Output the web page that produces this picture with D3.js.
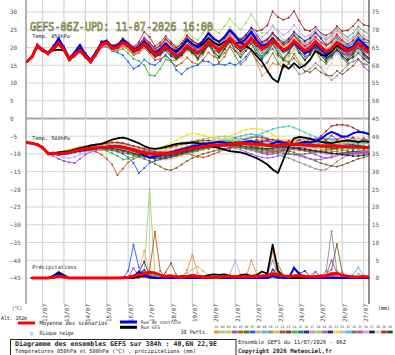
<!DOCTYPE html>
<meta charset="utf-8" />
<head>
  <style>
    body { margin: 0; background: #fff; }
    svg text { font-family: "DejaVu Sans Mono", monospace; }
  </style>
  <script src="https://d3js.org/d3.v7.min.js"></script>
</head>
<body>
  <svg width="395" height="355"></svg>
  <script>
    // 6h steps from 11/07 06Z to 27/07 06Z (384h)
    const days = ["12/07", "13/07", "14/07", "15/07", "16/07", "17/07", "18/07", "19/07",
      "20/07", "21/07", "22/07", "23/07", "24/07", "25/07", "26/07", "27/07"];
    const dayStep = [3, 7, 11, 15, 19, 23, 27, 31, 35, 39, 43, 47, 51, 55, 59, 63];
    const leftTicks = [30, 25, 20, 15, 10, 5, 0, -5, -10, -15, -20, -25, -30, -35, -40, -45];
    const rightTicks = [75, 70, 65, 60, 55, 50, 45, 40, 35, 30, 25, 20, 15, 10, 5, 0];
    const memberColors = ["#f08c3c", "#a0d870", "#c8c850", "#9050d0", "#c05818", "#507020",
      "#2060f0", "#d0b080", "#60b0e0", "#909090", "#e0c040", "#806030", "#a02828", "#30c030",
      "#208080", "#203080", "#f080c0", "#80e040", "#a060f0", "#3020a0", "#f0e020", "#f0b090",
      "#40d0d0", "#708040", "#d040a0", "#c0a0f0", "#202060", "#e0d0b0", "#c02040", "#106010"];

    const nums = s => s.trim().split(/[\s|]+/).map(Number);

    // temperature 850hPa (°C)
    const t850Mean = nums("15.9 17.3 20.4 19.3|18.3 19.6 21.2 19.4|16.6 18 19.2 17.5|16 18.2 20.8 21.3|19.8 20 21.4 20.4|18.9 19.6 21 19.7|18 18.8 20.3 18.9|17.6 18.6 20.5 19.4|18.4 19.6 21.6 20.3|19.2 20.6 22.6 21|19.8 20.8 22.4 21|19.6 20.4 22 20.6|19.2 20 21.8 20.5|19 19.8 21.6 20.2|18.8 19.6 21.4 20.2|18.9 19.8 21.2 20|18.8");
    const t850Ctrl = nums("15.9 17.4 20.6 19.4|18.5 20 22.6 19.8|16.8 18.6 20.8 18|16.4 18.6 21.2 21.8|20 20.4 22.2 20.8|19.2 20 21.8 20.2|18.4 19.6 21.2 19.6|18.6 20.2 22.4 21|20.2 21.8 24 22.4|21.6 23 25 23.4|21.2 22.4 24.4 22|20.4 21 22.6 20.8|19 19.6 21.4 19.8|18.4 19.2 21 19.4|18 19.4 21.6 20.6|19.6 20.4 22.4 21|19.8");
    const t850Gfs = nums("15.9 17.2 20.2 19|18.4 19.2 19.4 19.2|16.8 17.8 19.6 17.8|16.2 18.4 21 21.4|20.2 20.4 21.8 20.6|19.4 20 21.4 20|18.6 19.4 21 19.6|19 20.2 22 21|20 21 22.6 21.4|20.6 21.6 22.2 21|21.6 20.4 19.4 17.6|16 13.4 11.2 10.2|15.2 14 15.6 14.2|15 16.6 19 18|17.6 18.8 20.6 19.6|18.8 19.8 21.4 20.2|19.6");
    const t850Members = [
      "16 17.3 20.5 19.3|18.4 19.8 21.4 19.6|16.9 18.4 19.6 17.9|16.4 18.6 21.2 21.6|20.1 20.5 22 21|19.6 20.4 22 20.6|19 20 21.6 20.2|19.2 20.4 22.2 20.6|19.6 21 23 21.6|20.2 21.8 23.6 22|20.8 20.6 19 16|12 13.2 15.6 15|16.2 17.6 19.6 18.6|18 19.2 21.2 20|19.4 20.8 22.6 21.2|20 21.2 22.8 21.2|20.4",
      "16 17.2 20.3 19.2|18.2 19.8 21.2 19.4|16.8 18.2 19.4 17.8|16.2 18.4 21 21.5|20 20.2 21.8 20.8|19.6 20.6 22.4 21|19.4 20.6 22.6 21.4|20.6 22 24.6 23|22 24 27 25|24 26 28.2 26.4|25 27 29.4 27|24 24.2 26 24|22 22.6 24.2 22.2|21 21.6 23 21.4|20.4 21.4 23 21.6|20.6 21.6 23.4 22|21",
      "15.9 17.4 20.6 19.4|18.6 20.2 21.8 19.8|17 18.4 19.8 18.2|16.6 18.8 21.4 21.6|20.4 20.6 22 21.2|19.8 20.8 22.6 21.2|19.6 20.8 22.4 21|19.4 20.8 22.8 21.4|20 21.6 23.6 22|20.8 22.4 24.2 22.4|21 22 23.6 21.8|20.4 21.2 23 21.6|20.6 21.8 23.8 22.2|21 22 24 22.4|21.2 22.4 24.6 23|22 23 25 23.4|22.6",
      "16 17.6 21 19.8|18.8 20.6 22.6 20.4|17.4 18.8 20.4 18.4|16.8 19 21.8 22|20.6 20.8 22.4 21.4|20 21 22.8 21.4|19.8 20.6 21.8 20.2|19 20 21.4 20|19.2 20.4 22 20.6|19.6 21 22.8 21.2|20 21 22.6 21|19.6 20.2 21.6 20|18.6 19.2 20.6 18.8|17.4 18 19.6 18|16.6 17.4 18.8 17|15.4 16 16.8 14.6|13.2",
      "15.8 17 20 18.9|18 19.2 20.6 19|16.2 17.4 18.6 17|15.6 17.6 20 20.2|19 19.2 20.4 19.4|17.8 18.4 19.8 18.4|16.4 16.8 17.6 16|14.8 15.6 17.2 15.8|15.2 16.6 18.6 17.4|17 18.4 20.4 19|18.2 19.4 21.2 19.8|19 19.8 21.6 20.2|18.8 19.6 21.4 20|18.4 19.4 21.2 19.6|18 19 20.8 19.4|18.4 19.4 21 19.8|18.6",
      "16 17.3 20.4 19.3|18.2 19.6 21 19.2|16.5 17.9 19.2 17.4|15.8 18 20.6 21.2|19.6 19.8 21.4 20.2|18.6 19.4 20.8 19.4|17.8 18.6 20.2 18.8|17.4 18.4 20.2 19|16.8 18.8 21.6 18.6|17.2 19.4 22.4 19.2|17.6 19.8 22.6 19.4|17.4 19.4 22.2 19|17 19 21.8 18.6|16.6 18.6 21.4 18.4|16.4 18.6 21.6 18.6|16.8 18.8 21.6 18.6|17",
      "16 17.1 20.2 19|18 19.4 21 19.2|16.4 17.6 18.8 17.2|15.8 17.8 20.2 20.4|19 18.6 17.8 16|14 14.8 16.6 15.4|15 16.2 18 16.4|13.6 12.4 14 14.6|15 16.2 16 15|15.4 15 15.6 15|16 17.4 19.4 18.2|17.6 18.6 20.6 19.4|18.4 19.4 21.2 19.8|18 18.8 20.4 19|17 17.6 19.2 18.2|17.8 18.8 20.4 19|18.4",
      "16 17.2 20.4 19.2|18.3 19.7 21.3 19.5|16.7 18.1 19.3 17.6|16.1 18.3 20.9 21.4|19.9 20.1 21.6 20.5|19 19.8 21.2 19.9|18.2 19 20.6 19.2|17.8 18.8 20.8 19.6|18.6 19.8 21.8 20.4|19.4 20.8 22.8 21.2|20.2 21.4 23.2 21.8|20.6 21.6 23.6 22.2|21 22.2 24.4 23|22 23 25.4 24|22.6 23.6 25.8 24.2|23 24 26 24.6|24.2",
      "15.9 17 20 19|18 19.2 20.6 18.8|16.2 17.4 18.6 17|15.6 17.6 20.2 20.6|19.2 19.4 20.8 19.6|18.2 18.8 20.2 18.8|17.2 18 19.6 18.2|17 18 19.8 18.6|17.6 18.8 20.8 19.4|18.4 19.6 21.4 20|19 20.2 22 20.6|19.8 21 23 21.6|20.6 21.8 23.6 22.2|21.4 22.6 24.6 23|22 23.2 25.2 23.8|22.8 24 25.8 24.6|23.6",
      "16 17.3 20.4 19.3|18.3 19.6 21.2 19.4|16.6 18 19.2 17.6|16 18.2 20.8 21.2|19.8 20 21.4 20.4|18.8 19.6 21 19.6|18 18.8 20.4 19|17.6 18.6 20.6 19.4|18.4 19.6 21.6 20.2|19.2 20.4 22.2 20.8|19.6 20.6 22.2 20.6|19 19.6 21 19.2|17 15.6 14.4 12.4|13 14 15.6 14.4|12.4 10.8 12 13.4|15 16.4 18.4 17|16.6",
      "16.1 17.4 20.6 19.4|18.5 20 21.6 19.7|16.9 18.3 19.5 17.8|16.3 18.5 21.1 21.6|20.1 20.4 22 20.8|19.4 20.2 21.8 20.4|18.8 19.8 21.6 20.4|19.4 20.6 23 21.6|20.6 22 24.6 23|21.6 23.2 25.8 24|22 23 24.8 22.6|20.6 21.2 22.6 21|19.8 20.6 22.4 20.8|19.6 20.4 22.2 20.6|19.4 20.2 22 20.4|19.2 20 21.6 20|19.4",
      "15.9 17.1 20.2 19.1|18.1 19.4 20.8 19|16.4 17.8 19 17.2|15.8 18 20.4 20.8|19.4 19.6 21 20|18.6 19.2 20.6 19.2|17.6 18.4 20 18.6|17.2 18.2 20.2 19|18 19.2 21 19.6|18.6 19.8 21.6 20.2|19 19.8 21.4 19.8|18.4 18.6 19.6 17.6|16.4 16 17 15.2|13.4 13 14.2 13|12.2 12 13.4 12.4|13.6 14.8 16.6 15.4|15",
      "16.1 17.5 20.8 19.6|18.6 20.2 21.8 20|17.2 18.6 20 18.4|16.8 19 21.6 22|20.6 21 22.6 21.4|20.2 21.6 24.4 23|20.4 21.4 23.2 21.6|20 21.2 23.4 22|21 22 23.8 22.4|21.4 22.8 24.6 23|22.4 23.6 25.6 24.6|25 26.2 30.2 28.6|27.8 28.4 30.2 27.4|25 24.6 25.8 24|23.4 24.2 26 24.6|24.8 26 27.8 26.4|26",
      "16 17.2 20.4 19.2|18.3 19.6 21.4 19.6|16.6 18 19.2 17.6|16 18.2 20.6 20.8|19.2 19 19.6 18.4|16.8 16.2 15 12.2|12 14 16.6 16.2|16.4 17.6 19.6 18.4|17.8 19 21 19.8|18.8 20.2 22.2 20.8|19.6 20.6 22.4 21|19.8 20.6 22.2 20.8|19.4 20.2 22 20.6|19.2 20 21.8 20.4|19 20 21.6 20.2|19 19.8 21.2 19.8|19",
      "16 17.3 20.4 19.2|18.4 19.8 21.4 19.6|16.8 18.2 19.4 17.8|16.2 18.4 21 21.4|20 20.2 21.6 20.6|19 19.8 21.4 20|18.4 19.4 21 19.6|18.2 19.4 21.4 20.2|19.2 20.4 22.4 21|19.8 21 22.8 21.4|20 21 22.6 21.2|20 21 23 21.6|20.4 21.2 23 21.4|19.8 20.4 22 20.4|18.8 19.6 21.2 19.6|18.2 19 20.6 19.2|18.2",
      "16 17.2 20.3 19.2|18.2 19.5 21 19.2|16.5 17.8 19 17.4|15.8 17.8 20.4 20.8|19.4 19.6 21 19.8|18.2 18.8 20.2 18.8|17.4 18.2 19.8 18.4|17 18 20 18.8|17.8 19 21.2 20|19 20.4 22.6 21.2|20.2 21.2 23 21.4|20 20.8 22.6 21|19.4 20.2 22 20.4|19 19.8 21.6 20|18.6 19.4 21 19.4|17.8 18.4 19.8 18.2|17",
      "16 17.3 20.5 19.3|18.4 19.9 21.5 19.6|16.8 18.2 19.4 17.7|16.2 18.4 21 21.5|20 20.3 21.8 20.7|19.2 20 21.6 20.2|18.6 19.6 21.2 19.8|18.4 19.4 21.2 19.8|18.6 19.6 21.4 19.8|18.6 19.6 21.2 19.6|18.6 19.6 21.4 20|19.2 20.4 22.4 21|20 21.2 23.2 21.8|20.6 21.8 23.8 22.4|21 22 23.8 22.2|20.6 21.4 23 21.4|20.4",
      "16 17.2 20.3 19.2|18.3 19.7 21.3 19.5|16.7 18.1 19.3 17.6|16.1 18.3 20.9 21.3|19.9 20.1 21.6 20.5|19 19.8 21.4 20|18.4 19.2 20.8 19.4|18 19 21 19.6|18.8 20 22 20.6|19.6 21 23.4 22|21 22.4 24.6 22.8|21 21.4 22.6 20.8|19.6 20 21.4 19.6|18.4 19 20.6 19.2|18.2 19 20.8 19.4|18.6 19.6 21.4 20|19.6",
      "16 17.3 20.4 19.3|18.4 19.8 21.4 19.6|16.8 18.2 19.6 18|16.4 18.6 21.2 21.4|19.8 19.8 21 19.8|18.4 19 20.4 19|17.6 18.4 20 18.6|17.4 18.4 20.4 19.2|18.4 19.8 22 20.8|19.8 21.2 23.4 21.8|20.6 21.8 23.8 22.2|21 22 24 22.4|21 21.8 23.6 21.8|20 20.6 22.2 20.6|19 19.6 21 19.2|17.6 18 19.2 17.6|16.4",
      "16 17.4 20.6 19.4|18.6 20.4 22.4 20.2|17.2 18.6 20.2 18.4|16.8 19 21.6 21.8|20.4 20.6 22 21|19.6 20.4 22 20.6|19 19.8 21.4 20|18.6 19.6 21.6 20.2|19.4 20.8 23 21.6|20.6 22 24.4 23|22 23.4 25.4 23.6|21.6 22.4 24.2 22.6|21.4 22.4 24.4 23|21.8 22.6 24.2 22.6|20.6 21.4 23 21.4|20.2 21.2 23 21.6|21.2",
      "16 17.3 20.4 19.3|18.3 19.7 21.4 19.6|16.7 18.1 19.4 17.7|16.2 18.4 21 21.4|20 20.3 21.8 20.7|19.2 20.2 22 20.6|19 20 21.8 20.4|19 20.2 22.4 21|20 21.4 23.6 22|20.4 21.6 23.6 22|20.4 21.4 23.2 21.6|20.2 21.2 23 21.6|20.2 21 22.8 21.2|19.4 20 21.6 19.8|18.6 19.4 21 19.6|18.8 19.8 21.6 20.2|19.8",
      "16 17.2 20.3 19.1|18.1 19.4 20.9 19.1|16.4 17.7 18.9 17.3|15.7 17.8 20.3 20.6|19.2 19.4 20.8 19.6|18.2 18.8 20.2 18.6|17 17.6 19 17.4|16.4 17.2 19 17.8|17.2 18.4 20.4 19|18.2 19.6 21.6 20.2|19.2 20.4 22.4 21|19.6 20.6 22.6 21.2|19.8 20.8 22.8 21.4|20 21 23 21.6|20.2 21.2 23.2 21.6|19.6 20.4 22 20.4|19.2",
      "16 17.3 20.4 19.2|18.2 19.6 21.2 19.4|16.6 18 19.2 17.6|16 18.2 20.8 21.2|19.8 20 21.4 20.4|18.8 19.6 21.2 19.8|18.2 19 20.6 19.2|17.8 18.8 20.8 19.4|18.2 19.4 21.2 19.8|18.8 20 21.8 20.2|19 19.8 21.4 19.8|18.6 19.4 21 19.4|18.4 19.2 21 19.6|18.6 19.6 21.6 20.2|19.2 20.4 22.4 21|20 21.2 23.2 21.8|21.2",
      "16 17.2 20.2 19|18 19.4 20.8 19|16.4 17.8 19 17.4|15.8 18 20.6 21|19.6 19.8 21.2 20.2|18.8 19.6 21.2 19.8|18 18.8 20.4 19|17.6 18.6 20.6 19.2|16.4 18 20.6 18.4|15.8 17.4 20.2 17.6|15.2 16.6 19 16.4|14.6 15.8 18.4 15.6|14.2 15.4 18.2 15.8|14.8 16.2 19.2 16.6|15.4 17 20 17.2|16 17.6 20.4 17.8|16.6",
      "16 17.4 20.6 19.4|18.5 20 21.8 19.9|17 18.4 19.8 18|16.4 18.6 21.2 21.6|20.2 20.4 22 21|19.6 20.6 22.4 21|19.4 20.4 22.2 20.8|19 20 22 20.6|19.4 20.6 22.6 21.2|20 21.4 23.4 21.8|20.4 21.4 23.2 21.4|20 20.6 22.2 20.6|19.6 20.2 21.8 20|19 19.4 20.8 19|18.2 18.8 20.4 18.8|17.8 18.6 20.2 18.8|18",
      "16 17.2 20.2 19.1|18.2 19.6 21.2 19.4|16.6 18 19.2 17.6|16 18.2 20.8 21.2|19.8 20 21.4 20.4|19 19.8 21.4 20|18.6 19.6 21.4 20.2|18.8 20 22.2 20.8|19.6 21 23.2 21.8|20.6 22 24 22.4|21.2 22.6 25 23.8|23 24 26.2 24.8|23.6 24.4 26.4 24.6|23 23.6 25.4 23.8|22.4 23.2 25 23.4|21.8 22.6 24.4 22.8|22",
      "16 17.2 20.4 19.2|18.2 19.6 21.2 19.4|16.6 18 19.4 17.8|16.2 18.4 21.2 21.6|20.2 20.4 21.8 20.6|19 19.4 20.4 18.8|17.4 18 19.2 17.6|16.8 17.8 19.6 18.4|17.4 18.6 20.6 19.4|18.4 19.6 21.6 20.2|19 20 21.8 20.4|19.4 20.4 22.4 21|19.6 20.2 21.6 19.8|18.4 18.8 20 18.2|17.2 17.8 19.4 17.8|16.4 17.2 18.6 16.8|15.6",
      "16 17.3 20.4 19.3|18.4 19.8 21.3 19.5|16.7 18.1 19.3 17.6|16.1 18.3 20.9 21.3|19.9 20.1 21.6 20.6|19.2 20 21.6 20.2|18.6 19.4 21 19.6|18.2 19.2 21.2 19.8|17.6 19.6 22.4 19.4|18 20 22.8 19.6|17.6 19.4 21.6 18.2|16.4 18 20.4 16.8|15.2 16.8 19.4 15.8|14.4 16.2 18.8 15.2|13.8 15.6 18.4 15|14.2 16.4 19.2 15.8|15.2",
      "16 17.3 20.5 19.4|18.5 20 21.6 19.8|17 18.4 19.8 18.2|16.6 18.8 21.4 21.8|20.4 20.6 22.2 21.2|19.8 20.8 22.6 21.2|19.6 20.6 22.4 21|19.8 21 23.2 21.8|20.8 22 24.2 22.6|21.4 22.6 24.6 23|21.8 22.8 24.6 22.8|21.4 22.2 24 22.2|20.8 21.6 23.4 21.6|20.4 21.2 23 21.4|20.6 21.6 23.6 22|21 22 24 22.4|21.8",
      "16 17.2 20.4 19.2|18.3 19.6 21.2 19.4|16.6 17.9 19 17.4|15.8 18 20.6 21|19.6 19.8 21.2 20.2|18.6 19.2 20.6 19.2|17.6 18.2 19.8 18.2|17 18 19.8 18.6|17 19 21.6 18.8|17.4 19.6 22 19|17.2 19 21.2 18.4|16.8 18.6 21.2 18.2|16.6 18.4 21.4 18.4|16.4 18 20.8 17.8|16 17.8 20.8 17.6|16.4 18.2 21.2 18|16.8"
    ];

    // temperature 500hPa (°C)
    const t500Mean = nums("-6.8 -7 -7.4 -8.2|-9.8 -9.9 -10 -9.8|-9.6 -9.2 -8.8 -8.6|-8.4 -8.3 -8.2 -8.1|-8 -8 -8.2 -8.6|-9 -9.4 -9.8 -10|-10.1 -10.1 -10 -9.8|-9.6 -9.2 -8.8 -8.4|-8.2 -8 -7.8 -7.6|-7.5 -7.4 -7.2 -7.1|-7 -7.1 -7.2 -7.3|-7.4 -7.6 -7.8 -7.6|-7.4 -7.2 -7.3 -7.4|-7.5 -7.6 -7.7 -7.8|-7.8 -7.7 -7.8 -7.9|-8 -8 -8.1 -8.2|-8.2");
    const t500Ctrl = nums("-6.8 -7 -7.4 -8.2|-9.8 -10 -10.2 -10|-9.8 -9.4 -9 -8.8|-8.6 -8.4 -8.2 -8|-7.8 -7.8 -8 -8.4|-9 -9.6 -10.4 -11|-10.8 -10.4 -10 -9.6|-9.2 -8.8 -8.4 -8|-7.6 -7.2 -7 -6.8|-6.6 -6.8 -7 -7.2|-7 -6.6 -6.4 -6.8|-7.2 -7.6 -7 -6.6|-6.8 -7.2 -7.4 -7|-6.6 -6.8 -6.4 -5.8|-4.6 -3.8 -4.4 -5.2|-5 -4.2 -3.8 -4|-4.4");
    const t500Gfs = nums("-6.8 -7 -7.4 -8.2|-9.8 -9.8 -9.6 -9.4|-9.2 -8.8 -8.4 -8|-7.6 -7.4 -7.2 -6.6|-6 -5.6 -5.4 -5.8|-6.4 -7 -7.8 -8.4|-8.6 -8.4 -8 -7.6|-7.2 -7 -7 -6.8|-7 -7.2 -7.6 -8|-8.4 -8.8 -9.2 -9.4|-9.6 -10 -10.6 -11.2|-12 -13 -14.4 -15.4|-11.6 -8 -5.6 -5.2|-5.4 -5.8 -6.2 -6.6|-6.8 -7 -6.6 -6.4|-6.2 -6.4 -6.6 -6.4|-6.6");
    const t500Members = [
      "-6.8 -7 -7.4 -8.2|-9.6 -9.8 -9.8 -9.6|-9.4 -9 -8.6 -8.2|-8 -7.8 -7.6 -7.4|-7.4 -7.6 -8 -8.6|-9.2 -9.8 -10.4 -10.8|-11 -10.8 -10.4 -9.8|-9.2 -8.6 -8 -7.6|-7.4 -7.2 -7 -6.6|-6.4 -6.2 -6.4 -6.8|-7.2 -7.8 -8.4 -9|-9.6 -10 -9.6 -9|-8.4 -8 -7.6 -7.2|-7 -7.2 -7.6 -8|-8.4 -8.6 -8.4 -8|-7.6 -7.4 -7.6 -7.8|-8",
      "-6.8 -7 -7.3 -8|-9.6 -9.8 -9.6 -9.2|-8.8 -8.4 -8 -7.8|-7.6 -7.6 -7.4 -7.2|-7 -7 -7.2 -7.6|-8 -8.4 -8.8 -9|-9 -8.8 -8.4 -8|-7.6 -7.2 -6.8 -6.4|-6 -5.8 -5.6 -5.4|-5.2 -5 -5.2 -5.4|-5.6 -5.8 -6.2 -6.8|-7.4 -8 -8.4 -8.6|-8.4 -8 -7.6 -7.4|-7.6 -8 -8.4 -8.6|-8.6 -8.4 -8 -7.6|-7.2 -7 -7.2 -7.6|-8",
      "-6.8 -7.1 -7.5 -8.3|-9.9 -10 -10.1 -9.9|-9.6 -9.4 -9 -8.8|-8.6 -8.4 -8.4 -8.2|-8 -8.2 -8.6 -9|-9.4 -9.6 -9.8 -10|-10 -10.2 -10.4 -10.2|-9.8 -9.4 -9 -8.6|-8.4 -8.2 -8 -7.8|-7.6 -7.4 -7.2 -7|-6.8 -6.6 -6.4 -6.2|-6 -5.8 -6 -6.4|-6.8 -7 -7.2 -7|-6.6 -6.2 -6 -6.2|-6.6 -7 -7.2 -7|-6.8 -6.6 -6.4 -6.6|-6.8",
      "-6.8 -7 -7.4 -8.4|-10.2 -10.6 -11.4 -12|-12.4 -12.6 -11.4 -10.2|-9.4 -9 -8.8 -8.6|-8.4 -8.6 -8.8 -9.2|-9.6 -10 -10.2 -10.4|-10.6 -10.4 -10 -9.6|-9.2 -9 -8.8 -8.6|-8.4 -8.2 -8 -7.8|-7.6 -7.6 -7.8 -8|-8.2 -8.6 -9 -9.4|-9.8 -10.2 -10 -9.6|-9.2 -8.8 -8.4 -8.6|-9 -9.6 -10.2 -10.8|-11.2 -11 -10.6 -10|-9.6 -9.4 -9.2 -9|-8.8",
      "-6.8 -7 -7.5 -8.3|-9.9 -10 -10 -9.8|-9.6 -9.4 -9.2 -9|-9 -9.4 -10.2 -11.4|-13 -16 -14.2 -12.4|-11.4 -10.8 -10.4 -10.2|-10 -9.8 -9.6 -9.4|-9.2 -9.4 -9.8 -10.4|-10.8 -11 -10.6 -10|-9.4 -8.8 -8.4 -8|-7.8 -7.6 -7.4 -7.4|-7.6 -7.8 -8 -8.2|-8.4 -8.6 -8.8 -9|-9.2 -9.4 -9.2 -9|-8.8 -8.6 -8.8 -9|-9.2 -9.4 -9.6 -9.6|-9.4",
      "-6.8 -7 -7.4 -8.2|-9.8 -9.8 -9.8 -9.6|-9.4 -9 -8.6 -8.4|-8.2 -8 -7.8 -7.6|-7.6 -7.8 -8.2 -8.6|-9 -9.2 -9.4 -9.6|-9.8 -9.8 -9.6 -9.4|-9.2 -9 -8.8 -8.6|-8.8 -7.6 -8.6 -7.2|-8 -6.8 -7.8 -6.6|-7.4 -6.2 -7.2 -6.4|-7.6 -6.8 -8.2 -7.4|-8.8 -7.6 -8.6 -7.2|-8.2 -6.8 -7.8 -6.8|-8 -7 -8.4 -7.6|-8.8 -7.8 -9 -7.8|-8.4",
      "-6.8 -7 -7.4 -8.2|-9.8 -10 -10.2 -10|-9.8 -9.6 -9.4 -9.2|-9 -8.8 -8.8 -8.8|-9 -9.4 -10 -11|-12.6 -15.4 -14 -12.6|-12 -11.6 -11.4 -11|-10.6 -10.2 -9.8 -9.4|-9 -8.6 -8.2 -7.8|-7.6 -7.4 -7.2 -7|-6.8 -6.8 -7 -7.2|-7.4 -7.6 -7.8 -7.6|-7.2 -6.8 -6.4 -6|-5.8 -5.6 -5.8 -6|-6.4 -6.6 -6.8 -7|-7.2 -7.4 -7.6 -7.8|-8",
      "-6.8 -7 -7.4 -8.2|-9.8 -9.9 -10 -9.8|-9.6 -9.2 -8.8 -8.4|-8.2 -8 -7.8 -7.6|-7.4 -7.2 -7.2 -7.4|-7.8 -8.2 -8.6 -9|-9.2 -9.4 -9.4 -9.2|-9 -8.6 -8.2 -7.8|-7.6 -7.4 -7.2 -7|-6.8 -6.8 -6.6 -6.4|-6.2 -6.2 -6.4 -6.6|-6.8 -6.8 -6.6 -6.4|-6.2 -6 -5.8 -5.8|-6 -6.2 -6.4 -6.4|-6.2 -6 -5.8 -5.6|-5.4 -5.4 -5.6 -5.8|-6",
      "-6.8 -7 -7.4 -8.2|-9.7 -9.8 -9.8 -9.6|-9.4 -9.2 -8.8 -8.6|-8.4 -8.2 -8 -8|-8 -8.2 -8.4 -8.8|-9.2 -9.6 -10 -10.4|-10.6 -10.8 -10.6 -10.2|-9.8 -9.4 -9 -8.6|-8.2 -7.8 -7.4 -7|-6.6 -6.2 -5.8 -5.4|-5 -4.6 -4.4 -4.6|-5 -5.6 -6.2 -6.8|-7.2 -7.4 -7.2 -6.8|-6.4 -6 -5.8 -5.6|-5.6 -5.8 -6 -6.2|-6.4 -6.4 -6.2 -6|-5.8",
      "-6.8 -7 -7.4 -8.2|-9.8 -10 -10 -9.8|-9.6 -9.2 -8.8 -8.6|-8.4 -8.4 -8.2 -8.2|-8.2 -8.4 -8.8 -9.2|-9.6 -10 -10.2 -10.4|-10.4 -10.2 -10 -9.8|-9.6 -9.4 -9.2 -9|-8.8 -8.6 -8.4 -8.2|-8 -7.8 -7.6 -7.4|-7.4 -7.6 -7.8 -8.2|-8.6 -9 -9.6 -10.2|-10.8 -11.2 -11.8 -12.4|-13 -13.6 -14.2 -14.6|-14.4 -13.4 -12.2 -11.2|-10.4 -9.8 -9.4 -9.2|-9",
      "-6.8 -7 -7.4 -8.2|-9.8 -9.8 -9.6 -9.4|-9.2 -8.8 -8.4 -8|-7.8 -7.6 -7.4 -7.2|-7.2 -7.4 -7.6 -8|-8.4 -8.8 -9.2 -9.4|-9.4 -9.2 -8.8 -8.4|-8 -7.6 -7.2 -6.8|-6.6 -6.4 -6.4 -6.6|-6.8 -7 -7 -6.8|-6.6 -6.4 -6.2 -6|-6 -6.2 -6.4 -6.6|-6.8 -7 -7 -6.8|-6.6 -6.6 -6.8 -7|-7.2 -7.2 -7 -6.8|-6.6 -6.6 -6.8 -7|-7.2",
      "-6.8 -7 -7.4 -8.2|-9.8 -9.9 -10 -9.8|-9.6 -9.4 -9 -8.8|-8.6 -8.6 -8.6 -8.8|-9 -9.2 -9.6 -10|-10.4 -10.8 -11.4 -12|-12.8 -13.6 -14.4 -14.6|-14 -13 -12 -11.2|-10.6 -10 -9.6 -9.2|-8.8 -8.6 -8.4 -8.2|-8.2 -8.4 -8.6 -9|-9.4 -9.6 -9.4 -9.2|-9 -9.2 -9.6 -10.2|-10.8 -11.4 -12 -12.6|-13 -13.4 -13.6 -13.2|-12.6 -12 -11.4 -11|-10.6",
      "-6.8 -7 -7.3 -8|-9.6 -9.6 -9.6 -9.4|-9 -8.6 -8.2 -7.8|-7.6 -7.4 -7.2 -7|-6.8 -6.8 -7 -7.4|-7.8 -8.2 -8.4 -8.6|-8.6 -8.4 -8.2 -8|-7.6 -7.2 -6.8 -6.6|-6.4 -6.2 -6.2 -6.4|-6.6 -6.8 -6.8 -6.6|-6.2 -5.8 -5.4 -5.2|-5.4 -5.8 -6 -6.2|-6.4 -6.6 -6.8 -7|-7 -6.6 -6 -5|-3.6 -2.2 -1.8 -1.8|-2 -2.6 -3.4 -4|-4.6",
      "-6.8 -7 -7.4 -8.2|-9.8 -10 -10 -9.8|-9.6 -9.4 -9 -8.8|-8.6 -8.6 -8.8 -9.2|-9.8 -10.6 -11.6 -11.4|-10.8 -10.4 -10.2 -10|-10 -10 -10.2 -10.4|-10.6 -10.4 -10 -9.6|-9.2 -8.8 -8.4 -8|-7.8 -7.6 -7.6 -7.8|-8 -8.2 -8.4 -8.6|-8.6 -8.4 -8 -7.6|-7.2 -7 -6.8 -6.8|-7 -7.2 -7.4 -7.6|-7.8 -8 -8.2 -8.4|-8.6 -8.6 -8.4 -8.2|-8",
      "-6.8 -7 -7.4 -8.2|-9.8 -9.9 -9.9 -9.7|-9.5 -9.1 -8.7 -8.5|-8.3 -8.2 -8 -7.8|-7.6 -7.6 -7.8 -8.2|-8.6 -9 -9.4 -9.8|-10 -10.2 -10.2 -10|-9.8 -9.6 -9.2 -8.8|-8.6 -7.6 -8 -6.8|-7.2 -5.8 -6.8 -5.6|-6.4 -7.4 -6.8 -8.2|-7.6 -9.2 -8.4 -9.8|-8.6 -9.4 -7.8 -8.6|-7 -8 -6.6 -7.8|-6.8 -8.2 -7.2 -8.6|-7.6 -9 -7.8 -8.8|-7.6",
      "-6.8 -7 -7.4 -8.2|-9.8 -10 -10 -9.8|-9.6 -9.2 -8.8 -8.6|-8.4 -8.2 -8.2 -8.2|-8.4 -8.6 -9 -9.4|-9.8 -10.2 -10.6 -11|-11.2 -11.2 -11 -10.6|-10.2 -9.8 -9.4 -9|-8.6 -8.2 -7.8 -7.6|-7.4 -7.2 -7 -7|-7.2 -7.4 -7.8 -8.2|-8.4 -8.6 -8.6 -8.4|-8.2 -8 -8 -8.2|-8.4 -8.8 -9.2 -9.6|-9.8 -10 -10 -9.8|-9.6 -9.4 -9.4 -9.6|-9.8",
      "-6.8 -7 -7.4 -8.2|-9.8 -9.8 -9.8 -9.6|-9.4 -9 -8.6 -8.2|-8 -7.8 -7.8 -7.8|-8 -8.2 -8.4 -8.6|-8.8 -9 -9.4 -9.8|-10.2 -10.6 -10.8 -10.6|-10.2 -9.6 -9 -8.6|-8.2 -8 -7.8 -7.8|-7.8 -7.6 -7.4 -7.2|-7 -6.8 -6.6 -6.6|-6.8 -7 -7.2 -7.2|-7 -6.6 -6.2 -5.8|-5.6 -5.6 -5.8 -6.2|-6.6 -7 -7.2 -7.2|-7 -6.8 -6.8 -7|-7.2",
      "-6.8 -7 -7.4 -8.2|-9.8 -9.8 -9.6 -9.4|-9.2 -9 -8.8 -8.6|-8.4 -8.2 -8 -7.8|-7.6 -7.4 -7.4 -7.6|-8 -8.4 -8.8 -9.2|-9.4 -9.6 -9.6 -9.4|-9 -8.6 -8.2 -7.8|-7.8 -6.6 -7.2 -5.8|-6.8 -5.6 -7 -6.2|-7.8 -6.8 -8.6 -7.4|-8.8 -7.2 -8.4 -7|-8.2 -7 -8.6 -7.4|-9 -7.6 -8.8 -7.2|-8.4 -7 -8.2 -7.2|-8.6 -7.6 -9 -7.8|-9.2",
      "-6.8 -7 -7.4 -8.2|-9.8 -10 -10 -9.8|-9.6 -9.2 -8.8 -8.6|-8.4 -8.2 -8 -8|-8 -8 -8.2 -8.4|-8.8 -9.2 -9.6 -10|-10.2 -10.4 -10.4 -10.2|-10 -9.6 -9.2 -8.8|-8.6 -8.4 -8.2 -8|-7.8 -7.8 -8 -8.4|-8.8 -9.4 -10 -10.6|-11 -11.2 -11 -10.6|-10.2 -10 -10.2 -10.6|-11 -11.4 -11.6 -11.6|-11.2 -10.8 -10.4 -10.2|-10 -9.8 -9.6 -9.4|-9.2",
      "-6.8 -7 -7.4 -8.2|-9.8 -9.9 -9.8 -9.6|-9.4 -9 -8.6 -8.4|-8.2 -8 -7.8 -7.6|-7.4 -7.4 -7.6 -8|-8.4 -8.8 -9.2 -9.6|-9.8 -9.8 -9.6 -9.2|-8.8 -8.4 -8 -7.6|-7.2 -7 -6.8 -6.8|-7 -7.2 -7.4 -7.4|-7.2 -7 -6.8 -6.6|-6.4 -6.4 -6.6 -6.8|-7 -7.2 -7.4 -7.6|-7.8 -8 -8 -7.8|-7.6 -7.4 -7.2 -7.2|-7.4 -7.6 -7.8 -8|-8.2",
      "-6.8 -7 -7.4 -8.2|-9.8 -9.8 -9.6 -9.4|-9 -8.6 -8.2 -7.8|-7.6 -7.4 -7.2 -7|-7 -7.2 -7.4 -7.8|-8.2 -8.6 -8.8 -8.8|-8.6 -8.2 -7.6 -7|-6.2 -5.4 -4.6 -4.2|-4.4 -4.8 -5.2 -5.6|-5.8 -5.6 -5 -4.4|-3.8 -3.2 -2.9 -2.8|-3.2 -3.8 -4.6 -5.4|-6 -6.4 -6.6 -6.6|-6.4 -6.2 -6.2 -6.4|-6.6 -6.8 -7 -7|-6.8 -6.6 -6.6 -6.8|-7",
      "-6.8 -7 -7.4 -8.2|-9.8 -9.9 -10 -9.9|-9.7 -9.4 -9 -8.8|-8.6 -8.4 -8.2 -8.2|-8.2 -8.4 -8.6 -9|-9.4 -9.8 -10.2 -10.6|-11 -11.4 -11.6 -11.4|-11 -10.4 -9.8 -9.2|-8.8 -8.4 -8 -7.8|-7.6 -7.4 -7.2 -7|-6.8 -6.8 -7 -7.4|-7.8 -8.2 -8.4 -8.4|-8.2 -8 -7.8 -7.8|-8 -8.4 -8.8 -9.4|-10 -10.4 -10.6 -10.4|-10.2 -10 -10 -10.2|-10.4",
      "-6.8 -7 -7.4 -8.2|-9.8 -9.8 -9.8 -9.6|-9.4 -9 -8.8 -8.6|-8.4 -8.2 -8 -7.8|-7.8 -8 -8.2 -8.6|-9 -9.4 -9.8 -10|-10 -9.8 -9.6 -9.2|-8.8 -8.4 -8 -7.6|-7.4 -7.2 -7 -6.8|-6.6 -6.4 -6.2 -6|-5.8 -5.6 -5.2 -4.8|-4.2 -3.6 -3 -2.6|-2.4 -2.2 -2.6 -3.2|-4 -4.6 -5.2 -5.6|-5.8 -6 -6.2 -6.4|-6.6 -6.8 -7 -7|-7",
      "-6.8 -7 -7.4 -8.2|-9.8 -10 -10 -9.8|-9.6 -9.4 -9.2 -9|-8.8 -8.6 -8.4 -8.2|-8 -8 -8.2 -8.6|-9 -9.4 -9.6 -9.8|-9.8 -9.6 -9.4 -9.2|-9 -8.8 -8.6 -8.4|-8.2 -8 -7.8 -7.6|-7.6 -7.6 -7.8 -8|-8.2 -8.4 -8.6 -8.8|-9 -9.2 -9.4 -9.6|-9.8 -10 -10.2 -10.2|-10 -9.8 -9.6 -9.4|-9.2 -9.2 -9.4 -9.6|-9.8 -10 -10 -9.8|-9.6",
      "-6.8 -7 -7.4 -8.2|-9.8 -9.8 -9.8 -9.6|-9.4 -9.2 -8.8 -8.4|-8.2 -8 -7.8 -7.6|-7.6 -7.8 -8 -8.2|-8.6 -9 -9.2 -9.4|-9.6 -9.6 -9.4 -9.2|-9 -8.8 -8.4 -8|-7.8 -7.6 -7.4 -7.2|-7 -6.8 -6.8 -7|-7.2 -7.6 -8 -8.4|-8.8 -9 -9 -8.8|-8.6 -8.4 -8.4 -8.6|-8.8 -9 -9.2 -9.4|-9.6 -9.8 -10 -10.2|-10.2 -10 -9.8 -9.6|-9.4",
      "-6.8 -7 -7.4 -8.2|-9.8 -10 -10.4 -11|-11.2 -10.8 -10.2 -9.6|-9.2 -8.8 -8.6 -8.4|-8.2 -8.2 -8.4 -8.6|-9 -9.4 -9.8 -10.2|-10.4 -10.6 -10.4 -10|-9.6 -9.2 -8.8 -8.4|-8 -7.6 -7.4 -7.2|-7 -7 -7.2 -7.4|-7.6 -7.6 -7.4 -7.2|-7 -6.8 -6.6 -6.6|-6.8 -7 -7.2 -7.4|-7.6 -7.8 -8 -8|-7.8 -7.6 -7.4 -7.4|-7.6 -7.8 -8 -8.2|-8.4",
      "-6.8 -7 -7.4 -8.2|-9.8 -9.9 -10 -9.8|-9.6 -9.3 -9 -8.8|-8.6 -8.4 -8.2 -8|-7.8 -7.8 -8 -8.4|-8.8 -9.2 -9.6 -10|-10.4 -10.6 -10.6 -10.4|-10 -9.6 -9.2 -8.8|-8.4 -8 -7.8 -7.6|-7.4 -7.2 -7 -6.8|-6.6 -6.6 -6.8 -7|-7.2 -7.4 -7.6 -7.8|-8 -8.2 -8.4 -8.6|-8.8 -9 -9.2 -9.4|-9.6 -9.8 -10 -10.2|-10.4 -10.6 -10.6 -10.4|-10.2",
      "-6.8 -7 -7.4 -8.2|-9.8 -9.8 -9.8 -9.6|-9.4 -9.1 -8.7 -8.4|-8.2 -8 -7.8 -7.6|-7.4 -7.4 -7.6 -7.8|-8 -8.2 -8.4 -8.6|-8.8 -9 -9.2 -9.2|-9 -8.8 -8.4 -8|-7.6 -7.2 -6.8 -6.4|-6 -5.8 -5.8 -6|-6.2 -6.4 -6.6 -6.8|-7 -7 -6.8 -6.6|-6.4 -6.2 -6 -5.8|-5.8 -6 -6.2 -6.4|-6.6 -6.6 -6.4 -6.2|-6 -6 -6.2 -6.4|-6.6",
      "-6.8 -7 -7.4 -8.2|-9.8 -9.8 -9.7 -9.5|-9.3 -9 -8.6 -8.2|-7.8 -7.4 -7.2 -7|-6.8 -6.8 -7 -7.4|-7.8 -8.2 -8.6 -9|-9.4 -9.6 -9.6 -9.4|-9 -8.6 -8.2 -7.8|-8 -7 -7.8 -7|-8.4 -7.4 -8.6 -7.2|-8 -6.6 -7.4 -6|-7 -5.8 -7.2 -6.2|-7.6 -6.4 -7.4 -6|-7 -5.6 -6.6 -5.2|-6.2 -4.8 -6 -5|-6.4 -5.4 -6.8 -5.6|-6.6",
      "-6.8 -7 -7.4 -8.2|-9.8 -10 -10 -9.8|-9.6 -9.4 -9.2 -9|-8.8 -8.6 -8.4 -8.4|-8.6 -8.8 -9.2 -9.6|-10 -10.4 -10.8 -11.2|-11.4 -11.4 -11.2 -10.8|-10.4 -10 -9.6 -9.2|-8.8 -8.4 -8.2 -8|-7.8 -7.6 -7.6 -7.6|-7.8 -8 -8.2 -8.4|-8.6 -8.6 -8.4 -8.2|-8 -7.8 -7.6 -7.4|-7.4 -7.6 -7.8 -8|-8.2 -8.4 -8.4 -8.2|-8 -7.8 -7.8 -8|-8.2"
    ];

    // precipitation (mm per 6h), steps 1..64
    const precMean = nums("0 0 0 0 0.2 0.5 0.3 0|0 0 0 0 0 0 0 0|0 0.1 0.2 0.6 0.9 1.2 1.6 1.4|0.8 0.5 0.6 0.3 0.2 0.4 0.6 0.4|0.2 0.3 0.2 0.2 0.4 0.5 0.3 0.4|0.3 0.5 0.4 0.6 0.7 1.2 0.9 0.6|0.4 0.6 0.7 0.5 0.3 0.4 0.5 0.6|1.2 1.3 0.8 0.5 0.3 0.3 0.4 0.3");
    const precCtrl = nums("0 0 0 0 0.5 1.2 0.6 0|0 0 0 0 0 0 0 0|0 0 0 0.4 1.8 0.8 0.3 0|0 0 0 0 0 0 0 0|0 0 0.3 0.2 0 0 0 0|0 0 0 0 0 0.6 0.2 0|0 2.8 1 0 0 0 0 0|0 0 0 0 0 0 0 0");
    const precGfs = nums("0 0 0 0 0.6 1.6 0.8 0|0 0 0 0 0 0 0 0|0 0 0 0 0.4 0.6 0.2 0|0 0 0.2 0.3 0.5 0.6 0.8 0.6|0.4 0.8 1 0.9 1 0.6 0.4 0.8|1 0.6 0.8 1.8 1.2 9.4 2 0.4|0 0 0 0 0 0 0 0|0 0 0 0 0 0 0 0");
    const precMembers = [
      "0 0 0 0 0.2 0.6 0.3 0|0 0 0 0 0 0 0 0|0 0 0 0.3 0.6 0.4 0 0|0 0 0 0 0 2.2 6.5 1.4|0 0 0 0 0 0 0 0|0 5 1.2 0 1.4 7.3 1.2 0|0 0 0 0 0 0 0 0|0 0 0 0 0 0 0 0",
      "0 0 0 0 0.3 1 0.5 0|0 0 0 0 0 0 0 0|0 0 0 0.4 0.6 2 25 1|0.6 0 0 0 0 0 0 0|0 0 0 0 0 0 0 0|0 0 0 0 0 0.8 0.4 0|0 0 0 0 0 0 0 0|0 0.4 0.2 0 0 0 0 0",
      "0 0 0 0 0 0.4 0.2 0|0 0 0 0 0 0 0 0|0 0 0 0 0.5 1.2 0.8 0|0 0 0 0 0 0 0 0|0 0 0 0 0 0.3 0.6 0|0 0 0 0 0 1.6 0.8 0|0 0 0 0 0 0 0 0|0.5 0.4 0 0 0 0 0 0",
      "0 0 0 0 0.2 0.8 0.4 0|0 0 0 0 0 0 0 0|0 0 0 2.8 0.6 0.4 0 0|0 0 0 0 0 0 0 0|0 0 0 0 0 0 0 0|0 0 0 0 0 0.6 0.3 0|0 0 0 0 0 1.7 0.4 0.8|5 1.4 0.4 0 0 0 0 0",
      "0 0 0 0 0 0.5 0.3 0|0 0 0 0 0 0 0 0|0 0 0 0 0.4 1 2 13|2 0 0 0 0 0 0 0|0 0 0 0 0 0 0 0|0 0 0 0 0 0.8 4 0.6|0 0 0 0 0 0 0 0|0 0 0 0 0 0 0 0",
      "0 0 0 0 0 0.6 0.3 0|0 0 0 0 0 0 0 0|0 0 0 0.2 0.8 1.4 0.6 0|0 0 0 0 0 0 0 0|0 0 0.5 0.2 0 0 0 0|0 0 0 0 0 0 0 0|0 0 0 0 0 0 0 0|0 0 0.4 0 0 0 0 0",
      "0 0 0 0 0 0.4 0.2 0|0 0 0 0 0 0 0 0|0 0 2 9.4 3 0.6 0 0|0 0 0 0 0 0 0 0|0 0 0 0 0 0 0 0|0 0 0 0 0 1.2 0.6 0|0 0 0 0 0 0 0 0.4|0.6 0 0 0 0 0 0 0",
      "0 0 0 0 0 0.3 0.2 0|0 0 0 0 0 0 0 0|0 0 0 0 0.4 0.8 0.6 0|0 0 0 0 0.6 1.4 2.4 3.2|2 0.6 0 0 0 0 0 0|0 0 0 0 0.6 1.8 3.8 1|0 0 0 0 0 0 0 0|0 0 0 0 0 0 0 0",
      "0 0 0 0 0 0.3 0 0|0 0 0 0 0 0 0 0|0 0 0 0 0.6 1 0.4 0|0 0 0 0 0 0 0 0|0 0 0 0 0 0 0 0|0 0 0 0 0 2 0.6 0|0 0 0 0 0 0 0 0|0 0 0 0 0.8 3 0.6 0",
      "0 0 0 0 0 0.4 0.2 0|0 0 0 0 0 0 0 0|0 0 0 0 0.4 0.8 0.4 0|0 0 0 0 0 0 0 0|0 0 0 0 0 0 0 0|0 0 0 0 1 5 1.2 0|0 0 0 0 0 0 0.6 2|13.2 2 0 0 0 0 0 0",
      "0 0 0 0 0 0.2 0 0|0 0 0 0 0 0 0 0|0 0 0 0 0 0.6 1 0.4|0 0 0 0 0 0 0 0|0 0 0 0 0 0 0.6 0.2|0 0 0 0 0 0 0 0|0 0 0 0 0 0 0 0|0 0 0 0 0 0 0 0",
      "0 0 0 0 0 0.4 0.2 0|0 0 0 0 0 0 0 0|0 0 0 0 0.3 0.8 1.2 0.6|0 1.6 4.2 0.8 0 0 0 0|0 0 0 0 0 0 0 0|0 0 0 0 0 0 0 0|0 0 0 0 0 0 0 1.2|2.4 9.5 1.6 0 0 0 0 0",
      "0 0 0 0 0 0.2 0 0|0 0 0 0 0 0 0 0|0 0 0 0 0 0.4 0.2 0|0 0 0 0 0 0 0 0|0 0 0 0 0 0 0 0|0 0 0 0 0 0 0 0|0 0 0 0 0 0 0 0|0 0 0 0 0 0 0 0",
      "0 0 0 0 0.4 1.8 0.6 0|0 0 0 0 0 0 0 0|0 0 0 0.5 1.4 2.2 0.8 0|0 0 0 0 0 0 0 0|0 0 0 0 0 0 0 0|0 0 0 0 0 0.6 0.4 0|0 0 0 0 0 0 0 0|0 0 0 0 0 0 0 0",
      "0 0 0 0 0 0.4 0.2 0|0 0 0 0 0 0 0 0|0 0 0 0 0.6 1 0.4 0|0 0 0 0 0 0 0 0|0 0 0 0 0 0 0 0|0 0 0 0 0 1 0.4 0|0 0 0 0 0 0 0.4 0.8|1 0.4 0 0 0 0 0 0",
      "0 0 0 0 0 0.6 0.2 0|0 0 0 0 0 0 0 0|0 0 0 0.4 1.8 4.6 0.8 0|0 0 0 0 0 0 0 0|0 0 0 0 0 0 0 0|0 0 0 0 0 0.4 0 0|0 0 1.2 2 0.4 0 0 0|0 0 0 0 0 0 0 0",
      "0 0 0 0 0 0.3 0 0|0 0 0 0 0 0 0 0|0 0 0 0 0.2 0.6 0.4 0|0 0 0 0 0 0 0 0|0 0 0 0 0 0 0 0|0 0 0 0 0 0.8 0.4 0|0 0 0 0 0 0 0.6 1|1.4 0.6 0 0 0 0 0 0",
      "0 0 0 0 0.2 0.6 0.2 0|0 0 0 0 0 0 0 0|0 0 0 0 0.4 0.6 0.2 0|0 0 0 0 0 0 0 0|0 0 0 0 0 0 0 0|0 0 0 0 0 0 0 0|0 0 0 0 0 0 0 0|0 0 0 0 0 0 0 0",
      "0 0 0 0 0 0.4 0.2 0|0 0 0 0 0 0 0 0|0 0 0 0 0.6 1.2 0.6 0|0 0 0 0 0 0 0 0|0 0 0 0 0 0 0 0|0 0 0 0 0 1.4 0.6 0|0 0 0 0 0.6 1.8 0.4 0|0 0 0 0 0 0 0 0",
      "0 0 0 0 0 0.4 0.2 0|0 0 0 0 0 0 0 0|0 0 0 0 1 2.2 1 0|0 0 0 0 0 0 0 0|0 0 0 0 0 0 0 0|0 0 0 0 0 2.4 1 0|0 3 1.4 0 0 0 0 0|0 0 0 0 0 0 0 0",
      "0 0 0 0 0.3 1.4 0.6 0|0 0 0 0 0 0 0 0|0 0 0 0 0.4 1 0.6 0|0 0 0 0 0 0 0 0|0 0 0 0 0 0.4 0.8 0.2|0 0 0 0 0 1.6 0.6 0|0 0 0 0 0 0 0 0|0 0 0 0 0 0 0 0",
      "0 0 0 0 0 0.3 0.2 0|0 0 0 0 0 0 0 0|0 0 0 0.4 1.6 7.8 1.2 0|0 0 0 0 0 0 0 0|0 0 0 0 0 0 0 0|0 0 0 0 0 0.8 0.4 0|0 0 0 0 0 0 0 0|0 0 0 0 0 0 0 0",
      "0 0 0 0 0 0.3 0 0|0 0 0 0 0 0 0 0|0 0 0 0 0.4 0.6 0.2 0|0 0 0 0 0 0 0 0|0 0 0 0 0 0 0 0|0 0 0 0 0 1 0.4 0|0 0 0 0 0 0 0 0|0 0 0 0 0 1.2 0.4 0",
      "0 0 0 0 0 0.4 0.2 0|0 0 0 0 0 0 0 0|0 0 0 0 0.8 1.6 0.6 0|0 0 0 0 0 0 0 0|0 0 0 0 0 0 0 0|0 0 0 0 0 0.6 0.4 0|0 0 0 0 0 0 0 0|0 0 0 0 0 0 0 0",
      "0 0 0 0 0 0.2 0 0|0 0 0 0 0 0 0 0|0 0 0 0 0.4 0.8 0.4 0|0 0 0 0 0 0 0 0|0 0 0 0 0 0 0 0|0 0 0 0 0 0.4 0.2 0|0 0 0 0 0 0 0.8 0.6|0.8 0.4 0 0 0 0 0 0",
      "0 0 0 0 0 0.4 0.2 0|0 0 0 0 0 0 0 0|0 0 0 0 0.2 0.8 0.4 0|0 0 0 0 0 0 0 0|0 0 0 0 0 1 5 1|0 0 0 0 0 0.6 0.4 0|0 0 0 0 0 0 0 0|0 0 0 0 0 0 0 0",
      "0 0 0 0 0 0.4 0.2 0|0 0 0 0 0 0 0 0|0 0 0 0 0.6 1.2 0.4 0|0 0 0 0 0 0 0 0|0 0 0 0 0 0 0 0|0 0 0 0 0 0.8 0.4 0|0 0 0 0 0 0 0 0|0 0 0 0 0 0 0 0",
      "0 0 0 0 0 0.3 0 0|0 0 0 0 0 0 0 0|0 0 0 0 0.4 1 0.6 0|0 0 0 0 0 0 0.8 1.2|0.6 0 0 0 0 0 0 0|0 0 0 0 0 0 0 0|0 0 0 0 0 0 0 0|0 0 0 0 0 0 0 0",
      "0 0 0 0 0 0.4 0.2 0|0 0 0 0 0 0 0 0|0 0 0 0 0.4 0.8 0.2 0|0 0 0 0 0 0 0 0|0 0 0 0 0 0 0 0|0 0 0 0 0 0.6 0.2 0|0 0 0 0 0 0 0 0|0 0 0 0 0 0 0 0",
      "0 0 0 0 0 0.6 0.2 0|0 0 0 0 0 0 0 0|0 0 0 0.2 0.6 1.4 0.6 0|0 0 0 0 0 0 0 0|0 0 0 0 0 0 0 0|0 0 0 0 0 0.4 0 0|0 0 0 0 0 0 0 0|0 0 0 0 0 0 0 0"
    ];

    const t850 = t850Members.map(nums);
    const t500 = t500Members.map(nums);
    const prec = precMembers.map(nums);

    const svg = d3.select("svg");
    const W = 395;

    // one vertical scale for both temperature panels, precipitation sits under -45
    const x = d3.scaleLinear().domain([0, 64]).range([26.5, 369]);
    const y = d3.scaleLinear().domain([30, -45]).range([12, 278]);
    const yR = d3.scaleLinear().domain([75, 0]).range([12, 278]);
    const yP = d3.scaleLinear().domain([0, 20]).range([278, 207]);

    svg.append("rect").attr("width", W).attr("height", 355).attr("fill", "#fff");

    // grid
    const grid = svg.append("g");
    grid.selectAll(".h").data(leftTicks).enter().append("line")
      .attr("x1", 26).attr("x2", 369)
      .attr("y1", d => y(d)).attr("y2", d => y(d))
      .attr("stroke", d => d === 0 ? "#a8a8a8" : "#d6d6d6")
      .attr("stroke-width", d => d === 0 ? 2 : 1);
    grid.selectAll(".v").data(dayStep).enter().append("line")
      .attr("x1", d => x(d)).attr("x2", d => x(d))
      .attr("y1", 0).attr("y2", 304)
      .attr("stroke", "#d2d2d2").attr("stroke-width", 1.2);
    grid.append("line").attr("x1", 26).attr("x2", 26).attr("y1", 0).attr("y2", 304)
      .attr("stroke", "#9a9a9a").attr("stroke-width", 1.5);
    grid.append("line").attr("x1", 369).attr("x2", 369).attr("y1", 0).attr("y2", 304)
      .attr("stroke", "#6a6a6a").attr("stroke-width", 1.5);

    // axes labels
    const axL = svg.append("g").attr("transform", "translate(10,0)")
      .call(d3.axisLeft(y).tickValues(leftTicks).tickSize(0).tickPadding(0));
    axL.select(".domain").remove();
    axL.selectAll("text").attr("text-anchor", "start").attr("x", 0)
      .attr("font-size", 6).attr("fill", "#555").attr("font-family", "DejaVu Sans");
    const axR = svg.append("g").attr("transform", "translate(379,0)")
      .call(d3.axisRight(yR).tickValues(rightTicks).tickSize(0).tickPadding(0));
    axR.select(".domain").remove();
    axR.selectAll("text").attr("text-anchor", "end").attr("x", 0)
      .attr("font-size", 6).attr("fill", "#555").attr("font-family", "DejaVu Sans");

    svg.selectAll(".day").data(days).enter().append("text")
      .attr("transform", (d, i) => "translate(" + (x(dayStep[i]) + 4.6) + ",322) rotate(-90)")
      .attr("font-size", 6).attr("fill", "#444")
      .attr("textLength", 18).attr("lengthAdjust", "spacingAndGlyphs")
      .text(d => d);

    // series
    svg.append("clipPath").attr("id", "clip").append("rect")
      .attr("x", 26.5).attr("y", 0).attr("width", 343).attr("height", 304);
    const plot = svg.append("g").attr("clip-path", "url(#clip)");
    const line = d3.line();

    function draw(vals, start, ys, color, width, dots) {
      const pts = vals.map((v, i) => [x(start + i), ys(v)]);
      plot.append("path").attr("d", line(pts)).attr("fill", "none")
        .attr("stroke", color).attr("stroke-width", width).attr("stroke-linejoin", "round");
      if (dots) {
        plot.append("g").selectAll("rect").data(pts).enter().append("rect")
          .attr("x", d => d[0] - 0.9).attr("y", d => d[1] - 0.9)
          .attr("width", 1.8).attr("height", 1.8).attr("fill", color);
      }
    }

    prec.forEach((a, i) => draw(a, 1, yP, memberColors[i], 0.9, true));
    t500.forEach((a, i) => draw(a, 0, y, memberColors[i], 0.9, true));
    t850.forEach((a, i) => draw(a, 0, y, memberColors[i], 0.9, true));

    draw(precGfs, 1, yP, "#000", 1.8, false);
    draw(t500Gfs, 0, y, "#000", 1.8, false);
    draw(t850Gfs, 0, y, "#000", 1.8, false);
    draw(precCtrl, 1, yP, "#0000ee", 2, false);
    draw(t500Ctrl, 0, y, "#0000ee", 2, false);
    draw(t850Ctrl, 0, y, "#0000ee", 2, false);
    draw(precMean, 1, yP, "#ff0000", 3, false);
    draw(t500Mean, 0, y, "#ff0000", 3, false);
    draw(t850Mean, 0, y, "#ff0000", 3, false);

    // panel titles
    const small = (tx, ty, s, len, opts) => {
      const t = svg.append("text").attr("x", tx).attr("y", ty).attr("font-size", (opts && opts.size) || 6)
        .attr("fill", (opts && opts.fill) || "#222").text(s);
      if (len) t.attr("textLength", len).attr("lengthAdjust", "spacingAndGlyphs");
      if (opts && opts.bold) t.attr("font-weight", "bold");
      return t;
    };
    small(32.3, 37.6, "Temp. 850hPa", 37.7, { size: 5.2 });
    small(32.3, 140, "Temp. 500hPa", 37.7, { size: 5.2 });
    small(32.3, 268.8, "Précipitations", 44.4, { size: 5.2 });

    svg.append("text").attr("x", 30).attr("y", 30.6)
      .attr("font-family", "DejaVu Sans").attr("font-size", 12.5)
      .attr("fill", "#f2f232").attr("stroke", "#505050").attr("stroke-width", 0.6)
      .attr("textLength", 183).attr("lengthAdjust", "spacingAndGlyphs")
      .text("GEFS-06Z-UPD: 11-07-2026 16:00");

    // units
    small(12, 309.5, "(°C)", 10, { size: 5.5 });
    small(1, 320, "Alt. 162m", 26, { size: 5.5 });
    small(378, 309.5, "(mm)", 12, { size: 5.5 });

    // legend
    const lg = svg.append("g");
    lg.append("line").attr("x1", 18).attr("x2", 35).attr("y1", 323).attr("y2", 323)
      .attr("stroke", "#ff0000").attr("stroke-width", 3);
    small(39.5, 325.3, "Moyenne des scénarios", 68, { size: 6 });
    lg.append("line").attr("x1", 120).attr("x2", 137).attr("y1", 322).attr("y2", 322)
      .attr("stroke", "#0000ee").attr("stroke-width", 3);
    small(141, 323.6, "Run de contrôle", 40, { size: 4.8 });
    lg.append("line").attr("x1", 120).attr("x2", 137).attr("y1", 327.3).attr("y2", 327.3)
      .attr("stroke", "#000").attr("stroke-width", 3);
    small(141, 329.4, "Run GFS", 19, { size: 4.8 });
    svg.append("text").attr("x", 29.5).attr("y", 336).attr("font-family", "DejaVu Sans")
      .attr("font-size", 7).attr("fill", "#7cc8f0").text("❄");
    small(39.5, 335.3, "Risque neige", 34, { size: 6 });
    small(180.5, 333.5, "30 Perts.", 27.5, { size: 6 });

    const sqW = 5.97;
    lg.selectAll(".sq").data(memberColors).enter().append("rect")
      .attr("x", (d, i) => 214 + i * sqW).attr("y", 330.6)
      .attr("width", sqW - 0.4).attr("height", 2.8).attr("fill", d => d);
    lg.selectAll(".num").data(memberColors).enter().append("text")
      .attr("x", (d, i) => 214 + i * sqW + sqW / 2 - 0.2).attr("y", 328.3)
      .attr("text-anchor", "middle").attr("font-size", 3.2).attr("fill", "#333")
      .text((d, i) => d3.format("02d")(i + 1));

    // info box
    svg.append("rect").attr("x", 10.5).attr("y", 339.5).attr("width", 225.5).attr("height", 20)
      .attr("fill", "#fff").attr("stroke", "#222").attr("stroke-width", 1);
    small(15, 345.7, "Diagramme des ensembles GEFS sur 384h : 40,6N 22,9E", 202, { size: 6.6, bold: true });
    small(15, 353.3, "Températures 850hPa et 500hPa (°C) , précipitations (mm)", 181, { size: 5.6 });
    small(238, 343.8, "Ensemble GEFS du 11/07/2026 - 06Z", 108, { size: 5.6 });
    small(238, 353.3, "Copyright 2026 Meteociel,fr", 94, { size: 6, bold: true });
  </script>
</body>
